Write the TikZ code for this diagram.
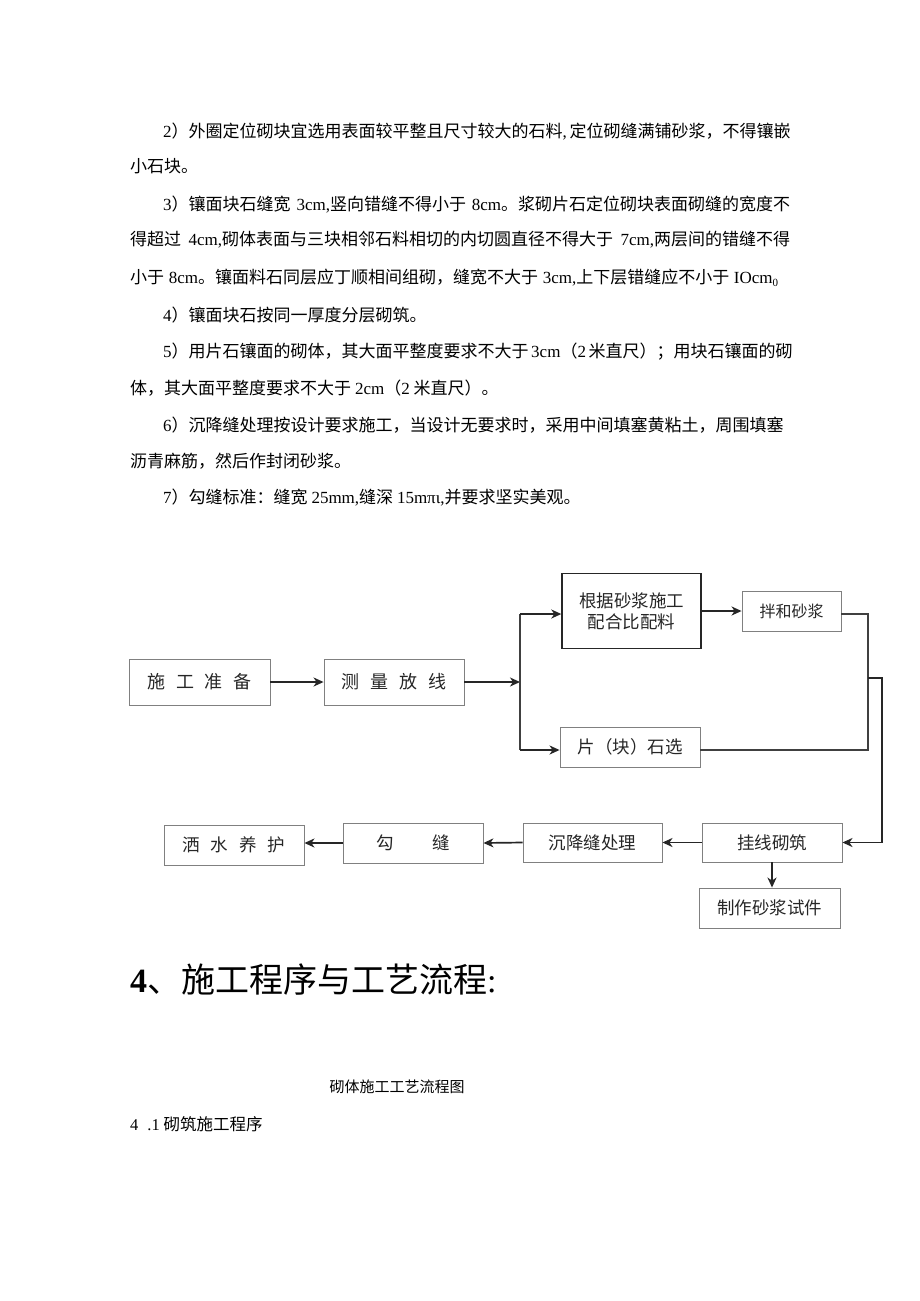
\documentclass[tikz,border=0pt]{standalone}
\usepackage{fontspec}
\setmainfont{Liberation Serif}
\newfontfamily\cjk{Noto Sans CJK SC}
\XeTeXlinebreaklocale "zh"
\XeTeXlinebreakskip=0pt plus 4pt minus 0.5pt
\usetikzlibrary{arrows.meta}
\newcommand{\tm}[1]{{\rmfamily #1}}
\newcommand{\jline}[2]{\hbox to #1{#2}}
\tikzset{
  box/.style={draw=black!50, line width=0.9pt, minimum width=140pt, minimum height=40pt, inner sep=0pt, text=black!85, font=\cjk\fontsize{17.5}{21}\selectfont},
  txt/.style={anchor=west, inner sep=0pt, font=\cjk\fontsize{17}{17}\selectfont},
  flow/.style={-{Stealth[length=10pt,width=9pt,inset=3pt]}, line width=1.7pt, black!85},
  link/.style={line width=1.5pt, black!75}
}
\begin{document}
\begin{tikzpicture}[x=1pt,y=-1pt]
    \useasboundingbox (0,0) rectangle (920,1301);

    \node[txt] (l1) at (163,132) {\jline{627pt}{\tm{2}）外圈定位砌块宜选用表面较平整且尺寸较大的石料\tm{,} 定位砌缝满铺砂浆，不得镶嵌}};
    \node[txt] (l2) at (130,166) {小石块。};
    \node[txt] (l3) at (163,205) {\jline{627pt}{\tm{3}）镶面块石缝宽 \tm{3cm,}竖向错缝不得小于 \tm{8cm}。浆砌片石定位砌块表面砌缝的宽度不}};
    \node[txt] (l4) at (130,240) {\jline{660pt}{得超过 \tm{4cm,}砌体表面与三块相邻石料相切的内切圆直径不得大于 \tm{7cm,}两层间的错缝不得}};
    \node[txt] (l5) at (130,278) {\jline{648pt}{小于 \tm{8cm}。镶面料石同层应丁顺相间组砌，缝宽不大于 \tm{3cm,}上下层错缝应不小于 \tm{IOcm\raisebox{-0.35ex}{\fontsize{11}{11}\selectfont 0}}}};
    \node[txt] (l6) at (163,315) {\tm{4}）镶面块石按同一厚度分层砌筑。};
    \node[txt] (l7) at (163,352) {\jline{627pt}{\tm{5}）用片石镶面的砌体，其大面平整度要求不大于 \tm{3cm}（\tm{2} 米直尺）；用块石镶面的砌}};
    \node[txt] (l8) at (130,388) {体，其大面平整度要求不大于 \tm{2cm}（\tm{2} 米直尺）。};
    \node[txt] (l9) at (163,425) {\jline{627pt}{\tm{6}）沉降缝处理按设计要求施工，当设计无要求时，采用中间填塞黄粘土，周围填塞}};
    \node[txt] (l10) at (130,461) {沥青麻筋，然后作封闭砂浆。};
    \node[txt] (l11) at (163,498) {\tm{7}）勾缝标准：缝宽 \tm{25mm,}缝深 \tm{15mπι,}并要求坚实美观。};

    \node[box, minimum width=141pt, minimum height=46pt, font=\cjk\fontsize{18}{18}\selectfont] (zb) at (199.5,682) {施\hspace{11pt}工\hspace{11pt}准\hspace{11pt}备};
    \node[box, minimum height=46pt, font=\cjk\fontsize{18}{18}\selectfont] (cl) at (394,682) {测\hspace{11pt}量\hspace{11pt}放\hspace{11pt}线};
    \node[box, draw=black!85, line width=1.4pt, minimum width=139pt, minimum height=75pt, align=center] (pb) at (631.5,611) {根据砂浆施工\\配合比配料};
    \node[box, minimum width=99pt, font=\cjk\fontsize{16}{16}\selectfont] (bh) at (791.5,611) {拌和砂浆};
    \node[box] (sx) at (630,747) {片（块）石选};
    \node[box, minimum height=39pt] (gx) at (772,842.5) {挂线砌筑};
    \node[box, minimum width=139pt, minimum height=39pt] (cj) at (592.5,842.5) {沉降缝处理};
    \node[box] (gf) at (413,843) {勾\hspace{39pt}缝};
    \node[box] (ss) at (234,845) {洒\hspace{11pt}水\hspace{11pt}养\hspace{11pt}护};
    \node[box, minimum width=141pt] (zz) at (769.5,908) {制作砂浆试件};

    \coordinate (split) at (520,682);
    \coordinate (up) at (520,614);
    \coordinate (dn) at (520,750);
    \coordinate (r1) at (868,614);
    \coordinate (r2) at (868,750);
    \coordinate (mid) at (868,678);
    \coordinate (r3) at (882,678);

    \draw[flow] (zb.east) -- (cl.west);
    \draw[flow] (cl.east) -- (split);
    \draw[link] (up) -- (dn);
    \draw[flow] (up) -- (up -| pb.west);
    \draw[flow] (dn) -- (dn -| sx.west);
    \draw[flow] (pb.east) -- (bh.west);
    \draw[link] (bh.east |- r1) -- (r1) -- (r2) -- (r2 -| sx.east);
    \draw[flow] (mid) -- (r3) |- (gx.east);
    \draw[flow] (gx.west) -- (cj.east);
    \draw[flow] (cj.west) -- (gf.east);
    \draw[flow] (gf.west) -- (gf.west -| ss.east);
    \draw[flow] (gx.south) -- (gx.south |- zz.north);

    \node[anchor=west, inner sep=0pt] (head) at (130,980) {\fontsize{34}{34}\selectfont\textbf{4}\cjk 、施工程序与工艺流程\tm{:}};
    \node[inner sep=0pt, font=\cjk\fontsize{15}{15}\selectfont] (cap) at (397,1087) {砌体施工工艺流程图};
    \node[txt, font=\cjk\fontsize{16.5}{16.5}\selectfont] (sub) at (130,1124) {\tm{4\hspace{9pt}.1} 砌筑施工程序};
\end{tikzpicture}
\end{document}
